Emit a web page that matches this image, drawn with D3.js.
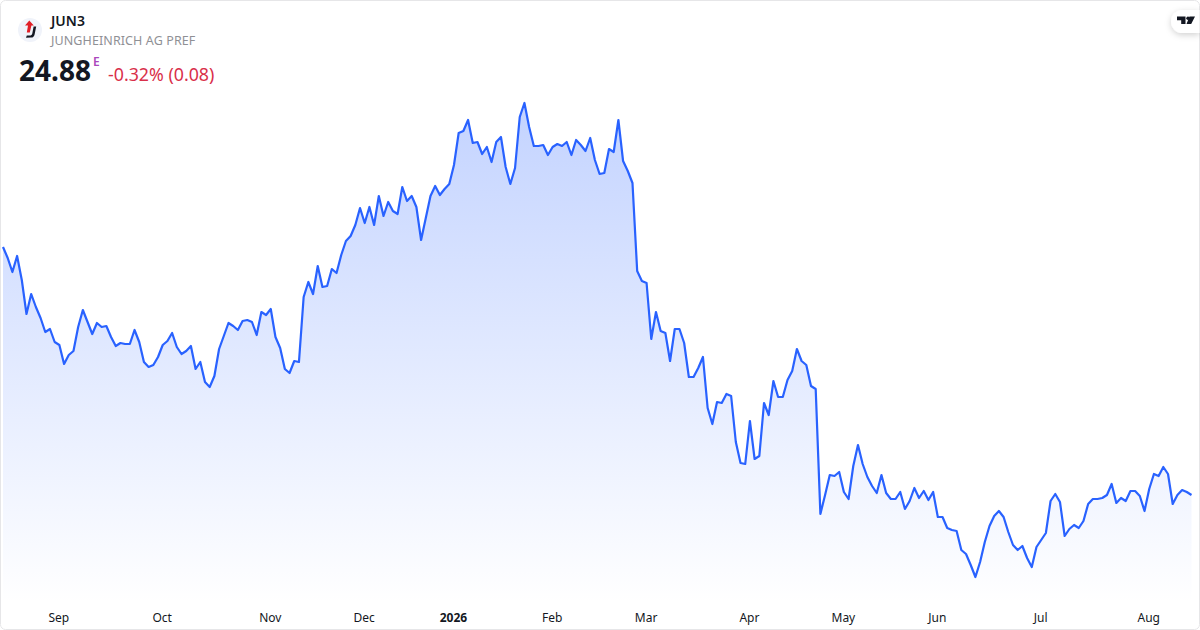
<!DOCTYPE html>
<html>
<head>
<meta charset="utf-8">
<script src="https://cdn.jsdelivr.net/npm/d3@7/dist/d3.min.js"></script>
<style>
    html, body { margin: 0; padding: 0; background: #fff; }
    svg { display: block; font-family: "Noto Sans", sans-serif; }
    .tick text { font-size: 12px; fill: #131722; }
    .tick text.year { font-weight: 700; }
</style>
</head>
<body>
<div id="chart"></div>
<script>
const symbol = "JUN3"
const companyName = "JUNGHEINRICH AG PREF"
const lastPrice = "24.88"
const changeText = "-0.32% (0.08)"

const prices = [
    37.28, 36.73, 36.03, 36.83, 35.63, 33.93, 34.93, 34.28, 33.73, 33.03, 33.18, 32.53, 32.38, 31.43, 31.88, 32.08,
    33.28, 34.13, 33.53, 32.93, 33.48, 33.28, 33.33, 32.78, 32.33, 32.48, 32.43, 32.43, 33.13, 32.53, 31.53, 31.28,
    31.38, 31.78, 32.38, 32.58, 32.98, 32.28, 31.93, 32.08, 32.33, 31.18, 31.53, 30.53, 30.28, 30.83, 32.18, 32.83,
    33.48, 33.33, 33.13, 33.58, 33.63, 33.53, 32.88, 34.03, 33.88, 34.18, 32.78, 32.23, 31.18, 30.98, 31.58, 31.53,
    34.78, 35.53, 34.93, 36.33, 35.28, 35.33, 36.18, 35.98, 36.88, 37.58, 37.83, 38.38, 39.23, 38.48, 39.28, 38.38,
    39.83, 38.83, 39.53, 39.08, 38.93, 40.28, 39.58, 39.83, 39.28, 37.63, 38.73, 39.83, 40.33, 39.88, 40.18, 40.43,
    41.38, 42.98, 43.08, 43.63, 42.48, 42.53, 41.93, 42.28, 41.53, 42.53, 42.78, 41.28, 40.43, 41.23, 43.78, 44.48,
    43.28, 42.33, 42.33, 42.38, 41.88, 42.28, 42.43, 42.33, 42.53, 41.88, 42.63, 42.38, 42.08, 42.73, 41.63, 40.93,
    40.98, 42.18, 42.03, 43.63, 41.58, 41.08, 40.48, 36.08, 35.58, 35.48, 32.68, 34.03, 33.08, 32.98, 31.58, 33.18,
    33.18, 32.48, 30.78, 30.78, 31.23, 31.78, 29.23, 28.43, 29.53, 29.48, 29.93, 29.83, 27.53, 26.48, 26.43, 28.58,
    26.68, 26.83, 29.48, 28.88, 30.58, 29.78, 29.78, 30.63, 31.08, 32.18, 31.58, 31.38, 30.33, 30.18, 23.93, 24.88,
    25.88, 25.83, 26.03, 25.03, 24.68, 26.33, 27.38, 26.43, 25.78, 25.33, 24.98, 25.88, 24.98, 24.68, 24.68, 25.03,
    24.18, 24.58, 25.23, 24.73, 25.08, 24.63, 25.03, 23.78, 23.78, 23.23, 23.13, 23.08, 22.13, 21.93, 21.38, 20.78,
    21.53, 22.53, 23.33, 23.83, 24.08, 23.78, 23.03, 22.38, 22.13, 22.33, 21.73, 21.28, 22.28, 22.63, 22.98, 24.58,
    24.93, 24.53, 22.83, 23.18, 23.38, 23.23, 23.58, 24.43, 24.68, 24.68, 24.73, 24.88, 25.43, 24.48, 24.73, 24.58,
    25.08, 25.08, 24.83, 24.08, 25.18, 25.93, 25.83, 26.28, 25.93, 24.43, 24.88, 25.13, 25.03, 24.88
]

// position of the first session of each month inside prices
const tickBars = [12, 34, 57, 77, 96, 117, 137, 159, 179, 199, 221, 244]
const tickLabels = ["Sep", "Oct", "Nov", "Dec", "2026", "Feb", "Mar", "Apr", "May", "Jun", "Jul", "Aug"]

const width = 1200, height = 630

const x = d3.scaleLinear().domain([0, prices.length - 1]).range([3, 1191.5])
const y = d3.scaleLinear().domain([18.63, 48.63]).range([620, 20])

const svg = d3.select("#chart").append("svg").attr("width", width).attr("height", height)

const defs = svg.append("defs")
const grad = defs.append("linearGradient").attr("id", "areaFill")
    .attr("gradientUnits", "userSpaceOnUse")
    .attr("x1", 0).attr("x2", 0).attr("y1", 102).attr("y2", 604)
grad.append("stop").attr("offset", 0).attr("stop-color", "#2962ff").attr("stop-opacity", 0.28)
grad.append("stop").attr("offset", 1).attr("stop-color", "#2962ff").attr("stop-opacity", 0)

const shadow = defs.append("filter").attr("id", "pillShadow")
    .attr("x", "-30%").attr("y", "-30%").attr("width", "160%").attr("height", "180%")
shadow.append("feDropShadow").attr("dx", 0).attr("dy", 2).attr("stdDeviation", 3)
    .attr("flood-color", "#000").attr("flood-opacity", 0.18)

const area = d3.area().x((d, i) => x(i)).y0(604).y1(d => y(d))
const line = d3.line().x((d, i) => x(i)).y(d => y(d))

svg.append("path").datum(prices).attr("d", area).attr("fill", "url(#areaFill)")
svg.append("path").datum(prices).attr("d", line)
    .attr("fill", "none").attr("stroke", "#2962ff").attr("stroke-width", 2.2).attr("stroke-linejoin", "round")

const axis = d3.axisBottom(x)
    .tickValues(tickBars)
    .tickFormat((d, i) => tickLabels[i])
    .tickSize(0)
    .tickPadding(0)

const axisG = svg.append("g").attr("transform", "translate(-1, 612)").call(axis)
axisG.select(".domain").remove()
axisG.selectAll(".tick text")
    .attr("dy", "0.32em").attr("y", 6)
    .attr("class", (d, i) => /^\d+$/.test(tickLabels[i]) ? "year" : null)
axisG.attr("font-family", null).attr("font-size", null)

// header
svg.append("circle").attr("cx", 30).attr("cy", 30).attr("r", 12).attr("fill", "#f0f3fa")
svg.append("path").attr("d", "M29.3 20.5 L33.8 25.6 L31.4 25.6 L29.8 32.5 L26.8 32.5 L28 25.6 L25 25.6 Z").attr("fill", "#e01e26")
svg.append("path").attr("d", "M33.6 26.5 L36.2 26.5 L34.6 34.5 Q34 37.6 31 37.6 L26 37.8 L26.8 35.6 L30.6 35.4 Q32 35.3 32.3 33.6 Z").attr("fill", "#131722")

svg.append("text").attr("x", 51).attr("y", 26).attr("font-size", 14).attr("font-weight", 600).attr("fill", "#131722").text(symbol)
svg.append("text").attr("x", 51).attr("y", 45).attr("font-size", 12.5).attr("letter-spacing", 0.1).attr("fill", "#8f9095").text(companyName)
svg.append("text").attr("x", 19).attr("y", 81).attr("font-size", 28).attr("font-weight", 700).attr("fill", "#131722").text(lastPrice)
svg.append("text").attr("x", 93).attr("y", 66).attr("font-size", 12).attr("font-weight", 600).attr("fill", "#ab47bc").text("E")
svg.append("text").attr("x", 108).attr("y", 81).attr("font-size", 17.8).attr("fill", "#d9304a").text(changeText)

// frame
svg.append("rect").attr("x", 0.5).attr("y", 0.5).attr("width", width - 1).attr("height", height - 1).attr("rx", 5)
    .attr("fill", "none").attr("stroke", "#e6e6e8")

// tradingview badge
svg.append("path").attr("d", "M1182.5 10 H1199.5 V33 H1182.5 A11.5 11.5 0 0 1 1182.5 10 Z")
    .attr("fill", "#fff").attr("filter", "url(#pillShadow)")
svg.append("path").attr("d", "M1177 16.5 H1185.5 V24 H1181.2 V20.3 H1177 Z M1189.5 16.5 H1195 L1191.2 24 H1186.5 Z").attr("fill", "#131722")
svg.append("circle").attr("cx", 1188).attr("cy", 18.3).attr("r", 1.7).attr("fill", "#131722")
</script>
</body>
</html>
